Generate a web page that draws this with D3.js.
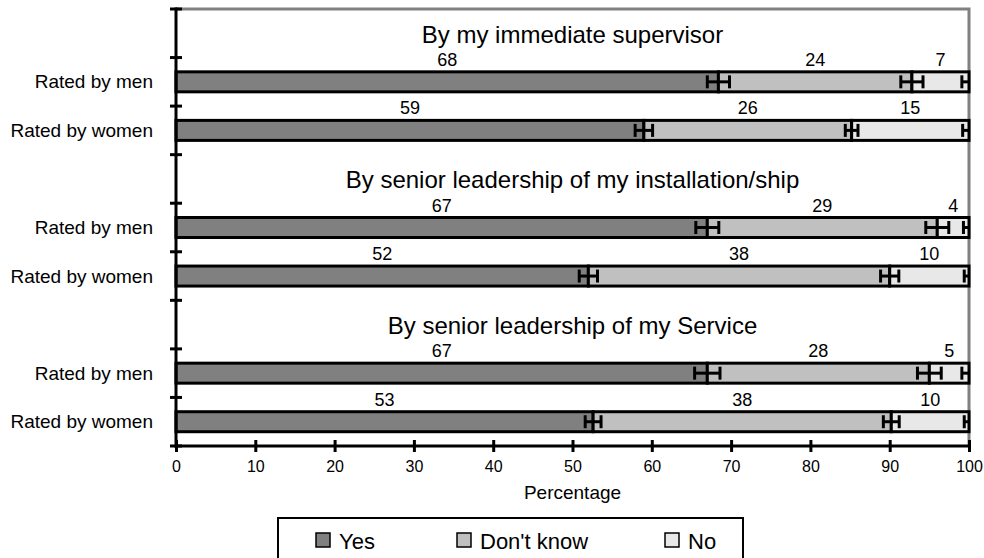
<!DOCTYPE html>
<html>
<head>
<meta charset="utf-8">
<script src="https://cdn.jsdelivr.net/npm/d3@7/dist/d3.min.js"></script>
<style>
  html, body { margin: 0; padding: 0; background: #fff; }
  svg { display: block; font-family: "Liberation Sans", Arial, sans-serif; }
</style>
</head>
<body>
<svg id="chart" width="984" height="558"></svg>
<script>
// Survey groups and respondent rows
const groups = ["By my immediate supervisor", "By senior leadership of my installation/ship", "By senior leadership of my Service"];
const raters = ["Rated by men", "Rated by women"];
const seriesNames = ["Yes", "Don't know", "No"];

// Percentages per row (group order, men then women)
const yesPct      = [68.4, 59.0, 67.0, 52.0, 67.0, 52.6];
const dontKnowPct = [24.4, 26.2, 29.0, 38.0, 28.0, 37.6];
const noPct       = [ 7.2, 14.8,  4.0, 10.0,  5.0,  9.8];

// Margin of error (percentage points) at the end of each segment
const yesMoe      = [1.4, 1.1, 1.45, 1.15, 1.6, 1.0];
const dontKnowMoe = [1.4, 0.8, 1.45, 1.15, 1.5, 1.0];
const noMoe       = [0.9, 0.8, 0.7, 0.6, 0.9, 0.6];

const xTicks = [0, 10, 20, 30, 40, 50, 60, 70, 80, 90, 100];

const colors = ["#808080", "#c0c0c0", "#e8e8e8"];

const svg = d3.select("#chart");

// Build the band list: a title band above each pair of rows
const bands = [];
const rows = [];
groups.forEach((g, gi) => {
  bands.push("t" + gi);
  raters.forEach((r, ri) => {
    const idx = gi * 2 + ri;
    bands.push("r" + idx);
    const vals = [yesPct[idx], dontKnowPct[idx], noPct[idx]];
    const moes = [yesMoe[idx], dontKnowMoe[idx], noMoe[idx]];
    let cum = 0;
    const segs = vals.map((v, si) => {
      const s = { row: idx, series: si, x0: cum, x1: cum + v, value: v, moe: moes[si] };
      cum += v;
      return s;
    });
    rows.push({ id: "r" + idx, label: r, segs });
  });
});

const x = d3.scaleLinear().domain([0, 100]).range([176, 969]);
const y = d3.scaleBand().domain(bands).range([9, 446]).padding(0);
const barH = 20;
const cy = id => y(id) + y.bandwidth() / 2;

// Clip for marks that run past the right edge
svg.append("defs").append("clipPath").attr("id", "plotClip")
  .append("rect").attr("x", x(0)).attr("y", y.range()[0]).attr("width", x(100) - x(0) + 1).attr("height", y.range()[1] - y.range()[0]);

// Plot frame: grey top and right edges
svg.append("path")
  .attr("d", `M${x(0)},${y.range()[0]}H${x(100)}V${y.range()[1]}`)
  .attr("fill", "none").attr("stroke", "#808080").attr("stroke-width", 3);

// Group titles
svg.append("g").selectAll("text").data(groups).join("text")
  .attr("x", (x(0) + x(100)) / 2)
  .attr("y", (d, i) => cy("t" + i) + 1)
  .attr("text-anchor", "middle").attr("dominant-baseline", "central")
  .attr("font-size", 24).attr("fill", "#000")
  .text(d => d);

// Stacked bars
const rowG = svg.append("g").selectAll("g").data(rows).join("g");
rowG.selectAll("rect").data(d => d.segs).join("rect")
  .attr("x", d => x(d.x0))
  .attr("width", d => x(d.x1) - x(d.x0))
  .attr("y", d => cy("r" + d.row) - barH / 2)
  .attr("height", barH)
  .attr("fill", d => colors[d.series])
  .attr("stroke", "#000").attr("stroke-width", 3);

// Value labels above each segment
const fmt = d3.format(".0f");
rowG.selectAll("text").data(d => d.segs).join("text")
  .attr("x", d => x((d.x0 + d.x1) / 2))
  .attr("y", d => cy("r" + d.row) - barH / 2 - 6)
  .attr("text-anchor", "middle")
  .attr("font-size", 18).attr("fill", "#000")
  .text(d => fmt(d.value));

// Error bars at the end of each segment
const errG = svg.append("g").attr("clip-path", "url(#plotClip)");
const allSegs = rows.flatMap(r => r.segs);
const capH = 13;
const eb = errG.selectAll("g").data(allSegs).join("g")
  .attr("stroke", "#000").attr("stroke-width", 3).attr("fill", "none");
eb.append("line")
  .attr("x1", d => x(d.x1 - d.moe)).attr("x2", d => x(d.x1 + d.moe))
  .attr("y1", d => cy("r" + d.row)).attr("y2", d => cy("r" + d.row));
eb.append("line")
  .attr("x1", d => x(d.x1 - d.moe)).attr("x2", d => x(d.x1 - d.moe))
  .attr("y1", d => cy("r" + d.row) - capH / 2).attr("y2", d => cy("r" + d.row) + capH / 2);
eb.append("line")
  .attr("x1", d => x(d.x1 + d.moe)).attr("x2", d => x(d.x1 + d.moe))
  .attr("y1", d => cy("r" + d.row) - capH / 2).attr("y2", d => cy("r" + d.row) + capH / 2);

// Left axis with ticks between bands
const leftG = svg.append("g");
leftG.append("line")
  .attr("x1", x(0)).attr("x2", x(0)).attr("y1", y.range()[0] - 1.5).attr("y2", y.range()[1] + 1.5)
  .attr("stroke", "#000").attr("stroke-width", 3);
const bandEdges = bands.map(b => y(b)).concat([y.range()[1]]);
leftG.selectAll("line.tk").data(bandEdges).join("line").attr("class", "tk")
  .attr("x1", x(0) - 6).attr("x2", x(0) + 6)
  .attr("y1", d => d).attr("y2", d => d)
  .attr("stroke", "#000").attr("stroke-width", 3);

// Row labels
svg.append("g").selectAll("text").data(rows).join("text")
  .attr("x", 153)
  .attr("y", d => cy(d.id))
  .attr("text-anchor", "end").attr("dominant-baseline", "central")
  .attr("font-size", 19).attr("fill", "#000")
  .text(d => d.label);

// Bottom axis
const xAxis = d3.axisBottom(x).tickValues(xTicks).tickFormat(d3.format("d")).tickSizeOuter(0).tickPadding(9);
const axG = svg.append("g").attr("transform", `translate(0,${y.range()[1]})`).call(xAxis);
axG.select(".domain").attr("stroke", "#000").attr("stroke-width", 3)
  .attr("d", `M${x(0) - 1.5},0H${x(100) + 1.5}`);
axG.selectAll(".tick line").attr("stroke", "#000").attr("stroke-width", 3).attr("y1", -6).attr("y2", 6);
axG.selectAll(".tick text").attr("font-size", 16).attr("font-family", "Liberation Sans, Arial, sans-serif").attr("fill", "#000");

svg.append("text")
  .attr("x", (x(0) + x(100)) / 2).attr("y", 492)
  .attr("text-anchor", "middle").attr("dominant-baseline", "central")
  .attr("font-size", 19).attr("fill", "#000")
  .text("Percentage");

// Legend
const legG = svg.append("g");
legG.append("rect").attr("x", 278).attr("y", 518).attr("width", 465).attr("height", 50)
  .attr("fill", "#fff").attr("stroke", "#000").attr("stroke-width", 2);
const legX = [316, 457, 665];
const legItem = legG.selectAll("g.it").data(seriesNames).join("g").attr("class", "it")
  .attr("transform", (d, i) => `translate(${legX[i]},540)`);
legItem.append("rect").attr("x", 0).attr("y", -7).attr("width", 14).attr("height", 14)
  .attr("fill", (d, i) => colors[i]).attr("stroke", "#000").attr("stroke-width", 1.5);
legItem.append("text").attr("x", 23).attr("y", 1)
  .attr("dominant-baseline", "central").attr("font-size", 22).attr("fill", "#000")
  .text(d => d);
</script>
</body>
</html>
